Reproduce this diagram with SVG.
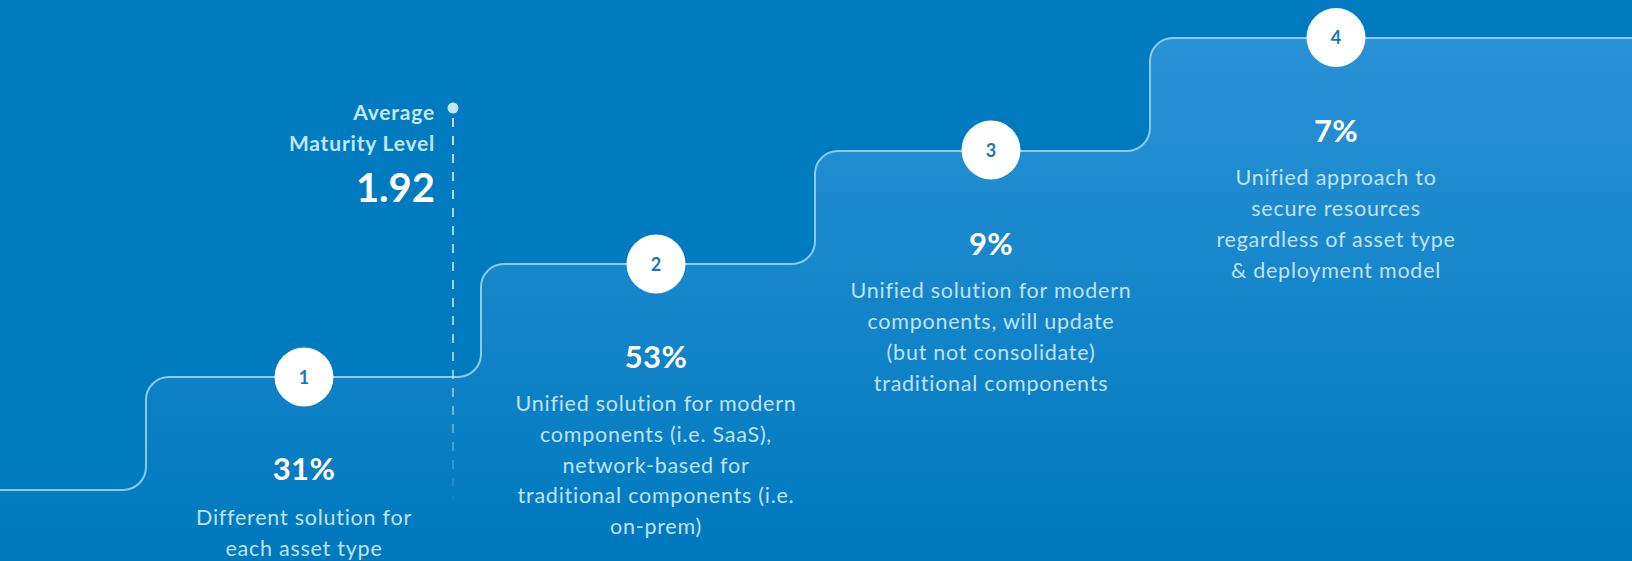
<svg xmlns="http://www.w3.org/2000/svg" width="1632" height="561" viewBox="0 0 1632 561">
<style>
  .pct { font-family: Lato, "Open Sans", sans-serif; font-weight: 700; font-size: 31px; letter-spacing: 0.4px; fill: #ffffff; text-anchor: middle; }
  .desc { font-family: Lato, "Open Sans", sans-serif; font-weight: 400; font-size: 21.5px; letter-spacing: 0.75px; fill: #bfe3f7; text-anchor: middle; }
  .num { font-family: Lato, "Open Sans", sans-serif; font-weight: 700; font-size: 18px; fill: #1577bb; text-anchor: middle; }
  .avg { font-family: Lato, "Open Sans", sans-serif; font-weight: 700; font-size: 21px; letter-spacing: 0.8px; fill: #c4e6fa; text-anchor: end; }
  .big { font-family: Lato, "Open Sans", sans-serif; font-weight: 700; font-size: 40px; fill: #ffffff; text-anchor: end; }
  .badge { fill: #ffffff; }
</style>
<defs>
  <linearGradient id="stairFill" gradientUnits="userSpaceOnUse" x1="0" y1="38" x2="0" y2="561">
    <stop offset="0" stop-color="#2a92d6"/>
    <stop offset="1" stop-color="#0078be"/>
  </linearGradient>
  <linearGradient id="dashFade" gradientUnits="userSpaceOnUse" x1="0" y1="118" x2="0" y2="500">
    <stop offset="0" stop-color="#bfe5fa" stop-opacity="0.95"/>
    <stop offset="0.65" stop-color="#bfe5fa" stop-opacity="0.75"/>
    <stop offset="1" stop-color="#bfe5fa" stop-opacity="0.05"/>
  </linearGradient>
</defs>
<rect x="0" y="0" width="1632" height="561" fill="#017bc0"/>
<g id="connectors">
  <path id="stair-fill" d="M0 490 H123 A23 23 0 0 0 146 467 V400 A23 23 0 0 1 169 377 H458 A23 23 0 0 0 481 354 V287 A23 23 0 0 1 504 264 H792 A23 23 0 0 0 815 241 V174 A23 23 0 0 1 838 151 H1127 A23 23 0 0 0 1150 128 V61 A23 23 0 0 1 1173 38 H1632 V561 H0 Z" fill="url(#stairFill)"/>
  <path id="stair-line" d="M0 490 H123 A23 23 0 0 0 146 467 V400 A23 23 0 0 1 169 377 H458 A23 23 0 0 0 481 354 V287 A23 23 0 0 1 504 264 H792 A23 23 0 0 0 815 241 V174 A23 23 0 0 1 838 151 H1127 A23 23 0 0 0 1150 128 V61 A23 23 0 0 1 1173 38 H1632" fill="none" stroke="#8ccbef" stroke-width="2"/>
  <line id="avg-line" x1="453" y1="118" x2="453" y2="500" stroke="url(#dashFade)" stroke-width="2" stroke-dasharray="9 9"/>
  <circle cx="453" cy="108" r="5.5" fill="#c4e6fa"/>
</g>
<g id="average">
  <text class="avg" x="435" y="120">Average</text>
  <text class="avg" x="435" y="151">Maturity Level</text>
  <text class="big" x="435" y="202">1.92</text>
</g>
<g id="step1">
  <circle class="badge" cx="304" cy="377" r="29.5"/>
  <text class="num" x="304" y="383.5">1</text>
  <text class="pct" x="304" y="480">31%</text>
  <text class="desc" x="304" y="525">Different solution for</text>
  <text class="desc" x="304" y="556">each asset type</text>
</g>
<g id="step2">
  <circle class="badge" cx="656" cy="264" r="29.5"/>
  <text class="num" x="656" y="270.5">2</text>
  <text class="pct" x="656" y="368">53%</text>
  <text class="desc" x="656" y="411">Unified solution for modern</text>
  <text class="desc" x="656" y="442">components (i.e. SaaS),</text>
  <text class="desc" x="656" y="473">network-based for</text>
  <text class="desc" x="656" y="503">traditional components (i.e.</text>
  <text class="desc" x="656" y="534">on-prem)</text>
</g>
<g id="step3">
  <circle class="badge" cx="991" cy="150" r="29.5"/>
  <text class="num" x="991" y="156.5">3</text>
  <text class="pct" x="991" y="255">9%</text>
  <text class="desc" x="991" y="298">Unified solution for modern</text>
  <text class="desc" x="991" y="329">components, will update</text>
  <text class="desc" x="991" y="360">(but not consolidate)</text>
  <text class="desc" x="991" y="391">traditional components</text>
</g>
<g id="step4">
  <circle class="badge" cx="1336" cy="37.5" r="29.5"/>
  <text class="num" x="1336" y="44">4</text>
  <text class="pct" x="1336" y="142">7%</text>
  <text class="desc" x="1336" y="185">Unified approach to</text>
  <text class="desc" x="1336" y="216">secure resources</text>
  <text class="desc" x="1336" y="247">regardless of asset type</text>
  <text class="desc" x="1336" y="278">&amp; deployment model</text>
</g>
</svg>
